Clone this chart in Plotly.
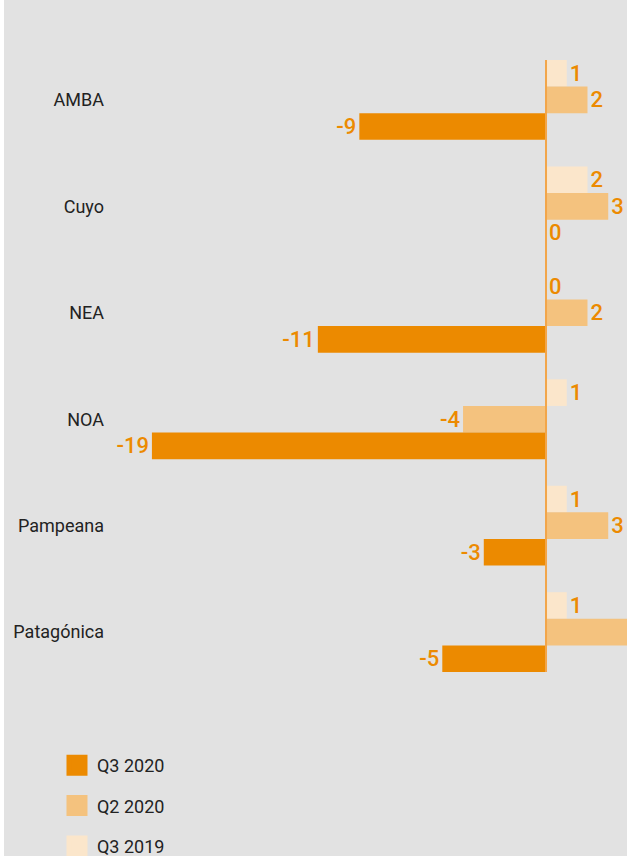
import plotly.graph_objects as go

regions = ["AMBA", "Cuyo", "NEA", "NOA", "Pampeana", "Patagónica"]
q3_2019 = [1, 2, 0, 1, 1, 1]
q2_2020 = [2, 3, 2, -4, 3, 4]
q3_2020 = [-9, 0, -11, -19, -3, -5]

series = [
    ("Q3 2019", q3_2019, "#fbe6cb", 3),
    ("Q2 2020", q2_2020, "#f4c27e", 2),
    ("Q3 2020", q3_2020, "#ec8a00", 1),
]

fig = go.Figure()
for name, vals, color, rank in series:
    fig.add_trace(go.Bar(
        y=regions, x=vals, orientation="h", name=name,
        marker=dict(color=color, line=dict(width=0)),
        text=[str(v) for v in vals], textposition="outside",
        textfont=dict(family="Roboto", size=22, color="#ec8a00", weight=500),
        cliponaxis=False, showlegend=False, legendgroup=name,
    ))
    fig.add_trace(go.Scatter(
        x=[None], y=[None], mode="markers", name=name, legendgroup=name,
        legendrank=rank,
        marker=dict(symbol="square", size=16, color=color,
                    line=dict(color=color, width=5)),
        showlegend=True, hoverinfo="skip",
    ))

fig.add_vline(x=0, line=dict(color="#f2a64a", width=2), layer="above")

fig.update_layout(
    width=623, height=856,
    margin=dict(l=111, r=0, t=60, b=184, autoexpand=False),
    paper_bgcolor="#e2e2e2", plot_bgcolor="#e2e2e2",
    barmode="group", bargap=0.25, bargroupgap=0,
    font=dict(family="Roboto", size=18, color="#222222"),
    xaxis=dict(range=[-20.78, 3.905], showgrid=False, showticklabels=False,
               zeroline=False, fixedrange=True),
    yaxis=dict(range=[5.375, -0.375], showgrid=False, zeroline=False,
               ticks="", ticklabelstandoff=10,
               tickfont=dict(family="Roboto", size=18, color="#222222")),
    legend=dict(x=-0.1133, y=-0.1225, xanchor="left", yanchor="top",
                traceorder="grouped", tracegroupgap=14,
                itemsizing="trace",
                font=dict(family="Roboto", size=18, color="#222222"),
                bgcolor="rgba(0,0,0,0)"),
)

fig.write_html("out.html",
               post_script="document.body.style.margin='0 0 0 4px';")
